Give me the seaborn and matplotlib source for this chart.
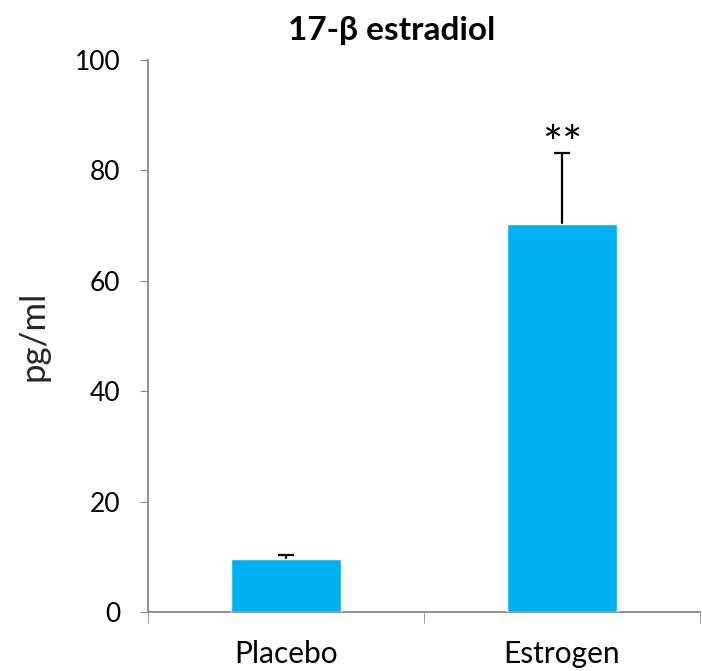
import numpy as np
import pandas as pd
import seaborn as sns
import matplotlib.pyplot as plt

groups = ['Placebo', 'Estrogen']
means = [9.6, 70.3]
errors = [0.7, 12.9]
marks = ['', '**']

sns.set_style('white')
plt.rcParams['font.family'] = ['Lato', 'DejaVu Sans']

df = pd.DataFrame({'group': groups, 'value': means})

fig = plt.figure(figsize=(7.02, 6.71), dpi=100)
ax = fig.add_axes([0.2108, 0.0879, 0.786, 0.8227])

sns.barplot(data=df, x='group', y='value', color='#00B0F0', saturation=1,
            width=0.4, ax=ax, zorder=3)
pos = np.arange(len(groups))
# symmetric bars drawn behind the columns so only the upper half shows
ax.errorbar(pos, means, yerr=errors, fmt='none',
            ecolor='black', elinewidth=1.6, capsize=6, capthick=1.6, zorder=2)
for x, m, e, s in zip(pos, means, errors, marks):
    if s:
        ax.text(x, m + e - 2.6, s, ha='center', va='bottom', fontsize=34,
                color='black')

ax.set_ylim(0, 100)
ax.set_xlim(-0.5, 1.48)
ax.set_yticks(range(0, 101, 20))
ax.set_xlabel('')
ax.set_ylabel('pg/ml', fontsize=25, labelpad=18)
fig.text(0.558, 0.955, '17-β estradiol', fontsize=24, fontweight='bold',
         ha='center', va='center', color='black')
ax.tick_params(axis='y', labelsize=19, colors='black', length=6,
               direction='out', left=True, pad=14)
ax.tick_params(axis='y', color='#888888')
ax.tick_params(axis='x', labelsize=21.5, colors='black', bottom=False, pad=17)
for sp in ['top', 'right']:
    ax.spines[sp].set_visible(False)
for sp in ['left', 'bottom']:
    ax.spines[sp].set_color('#888888')
    ax.spines[sp].set_linewidth(1.3)
# category boundary ticks on x axis
ax.set_xticks([-0.5, 0.5, 1.5], minor=True)
ax.tick_params(axis='x', which='minor', length=8, color='#888888', bottom=True)

fig.savefig('out.png', dpi=100)
